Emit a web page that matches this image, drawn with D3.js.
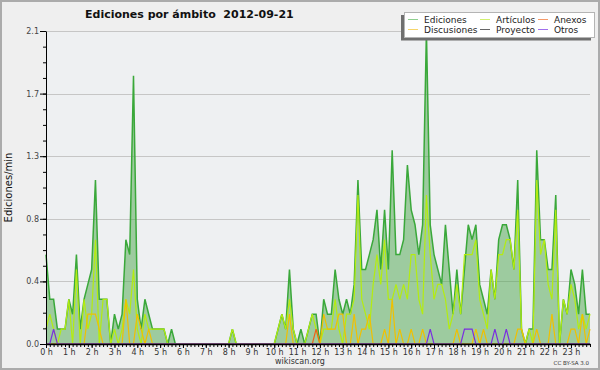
<!DOCTYPE html>
<html>
<head>
<meta charset="utf-8">
<script src="https://cdn.jsdelivr.net/npm/d3@7/dist/d3.min.js"></script>
<style>
  body { margin: 0; background: #fff; }
  svg { display: block; }
  text { font-family: "DejaVu Sans", sans-serif; }
</style>
</head>
<body>
<div id="chart"></div>
<script>
// edits per minute, one value every 10 minutes (0:00 .. 23:50)
const ediciones = [
  0.6,0.3,0.3,0.1,0.1,0.1,0.3,0.2,0.6,0.1,0.3,0.4,
  0.5,1.1,0.3,0.3,0.3,0,0.2,0.1,0.2,0.7,0.6,1.8,
  0.3,0.1,0.3,0.2,0.1,0.1,0.1,0.1,0,0.1,0,0,
  0,0,0,0,0,0,0,0,0,0,0,0,
  0,0.1,0,0,0,0,0,0,0,0,0,0,
  0,0.1,0.2,0.1,0.5,0.1,0,0.1,0,0.1,0.2,0.2,
  0,0.3,0.2,0.2,0.5,0.3,0.2,0.3,0.2,0.4,1.1,0.5,
  0.5,0.6,0.7,0.9,0.5,0.9,0.5,1.3,0.6,0.6,0.7,1.2,
  0.9,0.8,0.6,0.8,2.1,0.8,0.6,0.5,0.4,0.8,0.5,0.2,
  0.5,0.2,0.5,0.8,0.7,0.8,0.4,0.3,0.2,0.5,0.3,0.7,
  0.8,0.8,0.7,0.5,1.1,0.1,0,0.1,0.1,1.3,0.7,0.7,
  0.5,0.5,1.0,0,0.3,0.2,0.5,0.4,0.2,0.5,0.2,0.2
];
const articulos = [
  0.1,0.2,0.1,0,0.1,0.1,0.3,0,0.5,0,0.3,0.1,
  0.2,0.7,0,0.3,0.3,0,0.1,0,0.1,0.3,0.2,0.5,
  0.1,0,0.2,0.1,0.1,0.1,0.1,0.1,0,0,0,0,
  0,0,0,0,0,0,0,0,0,0,0,0,
  0,0.1,0,0,0,0,0,0,0,0,0,0,
  0,0.1,0.2,0.1,0.3,0.1,0,0,0,0.1,0.2,0.1,
  0,0.1,0.1,0.1,0.3,0.1,0,0.2,0.2,0.3,1.0,0.3,
  0.2,0.1,0.4,0.6,0.4,0.7,0.3,0.3,0.4,0.3,0.4,0.3,
  0.6,0.6,0.3,0.2,1.0,0.6,0.3,0.4,0.4,0.3,0.1,0.2,
  0.4,0.2,0.6,0.6,0.6,0.7,0.3,0.2,0.1,0.5,0.3,0.6,
  0.6,0.7,0.7,0.5,0.9,0.1,0,0.1,0,1.1,0.6,0.7,
  0.4,0.3,0.9,0,0.3,0.2,0.4,0.3,0.1,0.2,0.1,0.2
];
const anexos = [
  0,0,0,0,0,0,0,0,0,0,0,0,
  0,0,0,0,0,0,0,0,0,0,0,0,
  0,0,0,0,0,0,0,0,0,0,0,0,
  0,0,0,0,0,0,0,0,0,0,0,0,
  0,0,0,0,0,0,0,0,0,0,0,0,
  0,0,0,0,0,0,0,0,0,0,0,0.1,
  0,0,0,0,0,0,0,0,0,0,0,0,
  0,0,0,0,0,0,0,0,0,0,0,0,
  0,0,0,0,0,0,0,0,0,0,0,0,
  0,0,0,0,0,0,0,0,0,0,0,0,
  0,0,0,0,0,0,0,0,0,0,0,0,
  0,0,0,0,0,0,0,0,0,0,0,0
];
const discusiones = [
  0,0,0,0,0,0,0,0,0,0,0,0.2,
  0.2,0.2,0.1,0,0,0,0,0,0,0.3,0,0,
  0.2,0.1,0,0.1,0,0,0,0,0,0,0,0,
  0,0,0,0,0,0,0,0,0,0,0,0,
  0,0,0,0,0,0,0,0,0,0,0,0,
  0,0,0,0,0.2,0,0,0,0,0,0,0,
  0,0.2,0.1,0.1,0.1,0.2,0.2,0,0,0.2,0,0.1,
  0.1,0.2,0,0,0,0.1,0,0.3,0,0.1,0,0,
  0.1,0,0,0.1,0,0,0,0,0,0,0,0,
  0.1,0,0,0,0,0.1,0,0.1,0,0,0,0,
  0,0,0,0,0.1,0.1,0,0,0,0.1,0,0,
  0,0.2,0,0,0,0,0.1,0.1,0,0.2,0,0.1
];
const proyecto = [
  0,0,0,0,0,0,0,0,0,0,0,0,
  0,0,0,0,0,0,0,0,0,0,0,0,
  0,0,0,0,0,0,0,0,0,0,0,0,
  0,0,0,0,0,0,0,0,0,0,0,0,
  0,0,0,0,0,0,0,0,0,0,0,0,
  0,0,0,0,0,0,0,0,0,0,0,0,
  0,0,0,0,0,0,0,0,0,0,0,0,
  0,0,0,0,0,0,0,0,0,0,0,0,
  0,0,0,0,0,0,0,0,0,0,0,0,
  0,0,0,0,0,0,0,0,0,0,0,0,
  0,0,0,0,0,0,0,0,0,0,0,0,
  0,0,0,0,0,0,0,0,0,0,0,0
];
const otros = [
  0,0,0.1,0,0,0,0,0,0,0,0,0,
  0,0,0,0,0,0,0,0,0,0,0,0,
  0,0,0,0,0,0,0,0,0,0,0,0,
  0,0,0,0,0,0,0,0,0,0,0,0,
  0,0,0,0,0,0,0,0,0,0,0,0,
  0,0,0,0,0,0,0,0,0,0,0,0,
  0,0,0,0,0,0,0,0,0,0,0,0,
  0,0,0,0,0,0,0,0,0,0,0,0,
  0,0,0,0,0,0.1,0,0,0,0,0,0,
  0,0,0.1,0.1,0.1,0,0,0,0,0,0.1,0,
  0,0.1,0,0,0,0,0,0,0,0,0,0,
  0,0,0,0,0,0,0,0,0,0,0,0
];

const hourLabels = ["0 h","1 h","2 h","3 h","4 h","5 h","6 h","7 h","8 h","9 h","10 h","11 h",
  "12 h","13 h","14 h","15 h","16 h","17 h","18 h","19 h","20 h","21 h","22 h","23 h"];
const yTickValues = [0, 0.42, 0.84, 1.26, 1.68, 2.1];
const yTickLabels = ["0.0","0.4","0.8","1.3","1.7","2.1"];
const seriesNames = ["Ediciones","Artículos","Anexos","Discusiones","Proyecto","Otros"];

const title = "Ediciones por ámbito  2012-09-21";

(function () {
  const W = 600, H = 370;
  const margin = {top: 31, right: 10, bottom: 26, left: 46};
  const width = W - margin.left - margin.right;
  const height = H - margin.top - margin.bottom;

  const styles = {
    "Ediciones":   {values: ediciones,   color: "#3aa83a", key: "#8fcf8f", width: 1.5},
    "Artículos":   {values: articulos,   color: "#b4ec10", key: "#d2f070", width: 1.2},
    "Anexos":      {values: anexos,      color: "#f06018", key: "#f59a6a", width: 1.2},
    "Discusiones": {values: discusiones, color: "#f0c000", key: "#f6d56a", width: 1.2},
    "Proyecto":    {values: proyecto,    color: "#444444", key: "#666666", width: 1.2},
    "Otros":       {values: otros,       color: "#7a2ee0", key: "#a070ec", width: 1.2}
  };

  const svg = d3.select("#chart").append("svg")
    .attr("width", W)
    .attr("height", H);

  svg.append("rect")
    .attr("x", 1).attr("y", 1)
    .attr("width", W - 2).attr("height", H - 2)
    .attr("fill", "#efefef")
    .attr("stroke", "#ababab")
    .attr("stroke-width", 2);

  const g = svg.append("g")
    .attr("transform", "translate(" + margin.left + "," + margin.top + ")");

  const x = d3.scaleLinear().domain([0, ediciones.length - 1]).range([0, width]);
  const y = d3.scaleLinear().domain([0, 2.1]).range([height, 0]);

  g.append("rect")
    .attr("width", width)
    .attr("height", height)
    .attr("fill", "#eef0f2");

  // grid
  g.append("g")
    .selectAll("line")
    .data(yTickValues.slice(1))
    .join("line")
      .attr("x1", 0).attr("x2", width)
      .attr("y1", d => Math.round(y(d)) + 0.5)
      .attr("y2", d => Math.round(y(d)) + 0.5)
      .attr("stroke", "#c6c6c6");

  const area = d3.area()
    .x((d, i) => x(i))
    .y0(height)
    .y1(d => y(d));

  const line = d3.line()
    .x((d, i) => x(i))
    .y(d => y(d));

  g.append("path")
    .attr("d", area(ediciones))
    .attr("fill", "#4ca64c")
    .attr("fill-opacity", 0.5);

  seriesNames.forEach(function (name) {
    const s = styles[name];
    g.append("path")
      .attr("d", line(s.values))
      .attr("fill", "none")
      .attr("stroke", s.color)
      .attr("stroke-width", s.width);
  });

  // y axis, major and minor ticks
  const yMinor = d3.range(0, 21).map(k => k * 0.105);
  g.append("g")
    .call(d3.axisLeft(y).tickValues(yMinor).tickSize(3).tickFormat(""))
    .call(a => a.select(".domain").remove());

  const yAxis = g.append("g")
    .call(d3.axisLeft(y)
      .tickValues(yTickValues)
      .tickSize(6)
      .tickSizeOuter(0)
      .tickPadding(1)
      .tickFormat((d, i) => yTickLabels[i]));
  yAxis.selectAll("text")
    .attr("font-size", 8)
    .attr("font-family", "DejaVu Sans")
    .attr("fill", "#444");

  // x axis, 10 minute ticks and hour labels
  g.append("g")
    .attr("transform", "translate(0," + height + ")")
    .call(d3.axisBottom(x).tickValues(d3.range(0, ediciones.length)).tickSize(3).tickFormat(""))
    .call(a => a.select(".domain").remove());

  const xAxis = g.append("g")
    .attr("transform", "translate(0," + height + ")")
    .call(d3.axisBottom(x)
      .tickValues(hourLabels.map((d, i) => i * 6))
      .tickSize(4)
      .tickSizeOuter(0)
      .tickPadding(1)
      .tickFormat((d, i) => hourLabels[i]));
  xAxis.select(".domain").attr("stroke-width", 1.5);
  xAxis.selectAll("text")
    .attr("font-size", 8)
    .attr("font-family", "DejaVu Sans")
    .attr("fill", "#333");

  // titles
  svg.append("text")
    .attr("x", 85).attr("y", 18)
    .attr("font-size", 11)
    .attr("font-weight", "bold")
    .attr("fill", "#111")
    .style("white-space", "pre")
    .text(title);

  svg.append("text")
    .attr("transform", "translate(12," + (margin.top + height / 2) + ") rotate(-90)")
    .attr("text-anchor", "middle")
    .attr("font-family", "DejaVu Sans Mono")
    .attr("font-size", 10)
    .attr("fill", "#111")
    .text("Ediciones/min");

  svg.append("text")
    .attr("x", 300).attr("y", 364)
    .attr("text-anchor", "middle")
    .attr("font-size", 8)
    .attr("fill", "#333")
    .text("wikiscan.org");

  svg.append("text")
    .attr("x", 589).attr("y", 365)
    .attr("text-anchor", "end")
    .attr("font-size", 5.5)
    .attr("fill", "#333")
    .text("CC BY-SA 3.0");

  // legend
  const lx = 404, ly = 12, lw = 190, lh = 25;
  svg.append("rect")
    .attr("x", lx - 3).attr("y", ly + 3)
    .attr("width", lw).attr("height", lh + 0.5)
    .attr("fill", "#6f6f6f");
  svg.append("rect")
    .attr("x", lx + 0.5).attr("y", ly + 0.5)
    .attr("width", lw).attr("height", lh)
    .attr("fill", "#fff")
    .attr("stroke", "#b4b4b4");

  const colX = [408, 480, 538];
  const rowY = [19, 29];
  seriesNames.forEach(function (name, i) {
    const cx = colX[i % 3], cy = rowY[Math.floor(i / 3)];
    svg.append("line")
      .attr("x1", cx).attr("x2", cx + 10)
      .attr("y1", cy + 0.5).attr("y2", cy + 0.5)
      .attr("stroke", styles[name].key);
    svg.append("text")
      .attr("x", cx + 16).attr("y", cy + 3.5)
      .attr("font-size", 9)
      .attr("fill", "#222")
      .text(name);
  });
})();
</script>
</body>
</html>
